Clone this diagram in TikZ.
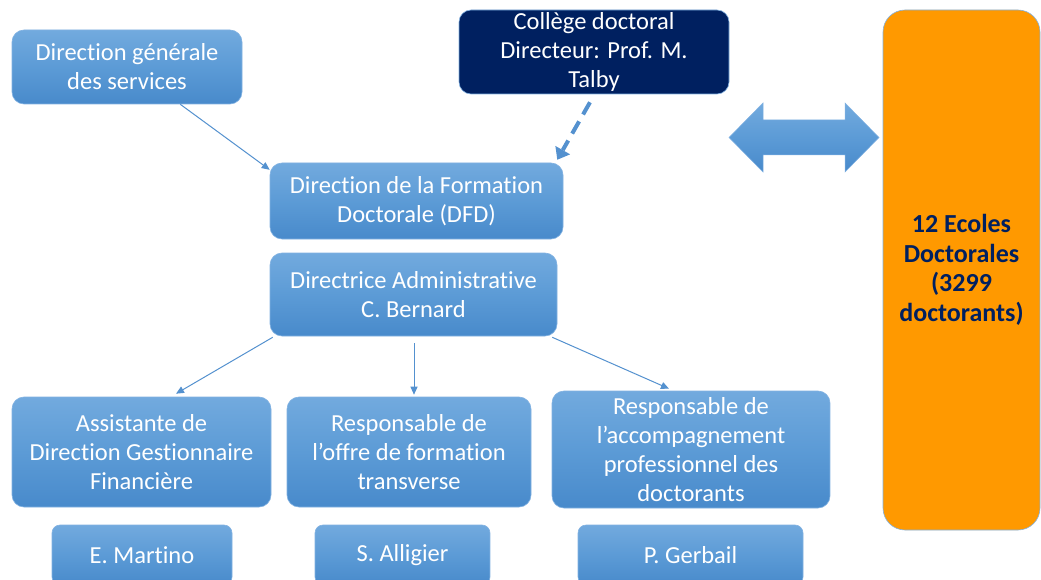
\documentclass[tikz,border=0pt]{standalone}
\usepackage{fontspec}
\setmainfont{Carlito}[Ligatures=NoCommon]
\usetikzlibrary{calc,arrows.meta}
\definecolor{boxtop}{RGB}{114,170,222}
\definecolor{boxmid}{RGB}{92,155,214}
\definecolor{boxbot}{RGB}{72,138,203}
\definecolor{boxedge}{RGB}{130,178,226}
\definecolor{navy}{RGB}{0,32,96}
\definecolor{orangebox}{RGB}{255,153,0}
\definecolor{linkblue}{RGB}{84,145,207}
\tikzset{
  bluebox/.style={rounded corners=12pt, top color=boxtop, bottom color=boxbot, middle color=boxmid,
    draw=boxedge, line width=0.6pt, text=white, align=center, inner sep=0pt,
    font=\fontsize{24.5pt}{29pt}\selectfont},
  namebox/.style={bluebox, rounded corners=8pt},
  navybox/.style={rounded corners=12pt, fill=navy, draw=boxedge, line width=0.6pt, text=white,
    align=center, inner sep=0pt, font=\fontsize{24.5pt}{29pt}\selectfont},
  orangenode/.style={rounded corners=22pt, fill=orangebox, draw=boxedge, line width=0.6pt,
    text=navy, align=center, inner sep=0pt, font=\fontsize{26pt}{29.5pt}\selectfont\bfseries},
  link/.style={draw=linkblue, line width=1pt, -{Triangle[length=8pt,width=7pt]}},
  dashlink/.style={draw=linkblue, line width=4pt, dash pattern=on 14pt off 8pt,
    -{Triangle[length=11pt,width=17pt,line width=0pt]}},
}
\begin{document}
\begin{tikzpicture}[x=1pt,y=-1pt]
\begin{scope}
\clip (0,0) rectangle (1041,580);
\fill[white] (0,0) rectangle (1041,580);
% boxes
\node[bluebox, minimum width=230pt, minimum height=74pt] (dgs) at (127,67) {Direction générale\\des services};
\node[navybox, minimum width=270pt, minimum height=84pt] (college) at (594,52) {Collège doctoral\\Directeur: Prof. M.\\Talby};
\node[bluebox, minimum width=293pt, minimum height=76pt] (dfd) at (416.5,201) {Direction de la Formation\\Doctorale (DFD)};
\node[bluebox, minimum width=287pt, minimum height=83pt] (dir) at (413.5,294.5) {Directrice Administrative\\C. Bernard};
\node[bluebox, minimum width=259pt, minimum height=110pt] (a1) at (141.5,452) {Assistante de\\Direction Gestionnaire\\Financière};
\node[bluebox, minimum width=244pt, minimum height=110pt] (a2) at (409,452) {Responsable de\\l’offre de formation\\transverse};
\node[bluebox, minimum width=278pt, minimum height=117pt] (a3) at (691,449.5) {Responsable de\\l’accompagnement\\professionnel des\\doctorants};
\node[namebox, minimum width=180pt, minimum height=60pt] (n1) at (142,555) {E. Martino};
\node[namebox, minimum width=175pt, minimum height=60pt] (n2) at (402.5,555) {S. Alligier};
\node[namebox, minimum width=225pt, minimum height=60pt] (n3) at (690.5,555) {P. Gerbail};
\node[orangenode, minimum width=157pt, minimum height=520pt] (ed) at (961.5,270) {12 Ecoles\\Doctorales\\(3299\\doctorants)};
% double arrow
\path[top color=boxtop, bottom color=boxbot, middle color=boxmid, draw=boxedge, line width=0.5pt]
  (729,137.5) -- (763,103) -- (763,120) -- (845,120) -- (845,103) -- (879,137.5)
  -- (845,172) -- (845,155) -- (763,155) -- (763,172) -- cycle;
% connectors
\draw[link] (dgs.-35) -- (dfd.168);
\draw[dashlink] ($(college.south)+(-4,8)$) -- ($(dfd.north east)+(-6,-3)$);
\draw[link] ($(dir.south west)+(3,1)$) -- ($(a1.north)+(34.5,-3)$);
\draw[link] ($(dir.south)+(0.5,7)$) -- ($(a2.north)+(5,-2)$);
\draw[link] ($(dir.south east)+(-5,1)$) -- ($(a3.north)+(-22,-2)$);
\end{scope}
\pgfresetboundingbox
\path[use as bounding box] (0,0) rectangle (1041,580);
\end{tikzpicture}
\end{document}
